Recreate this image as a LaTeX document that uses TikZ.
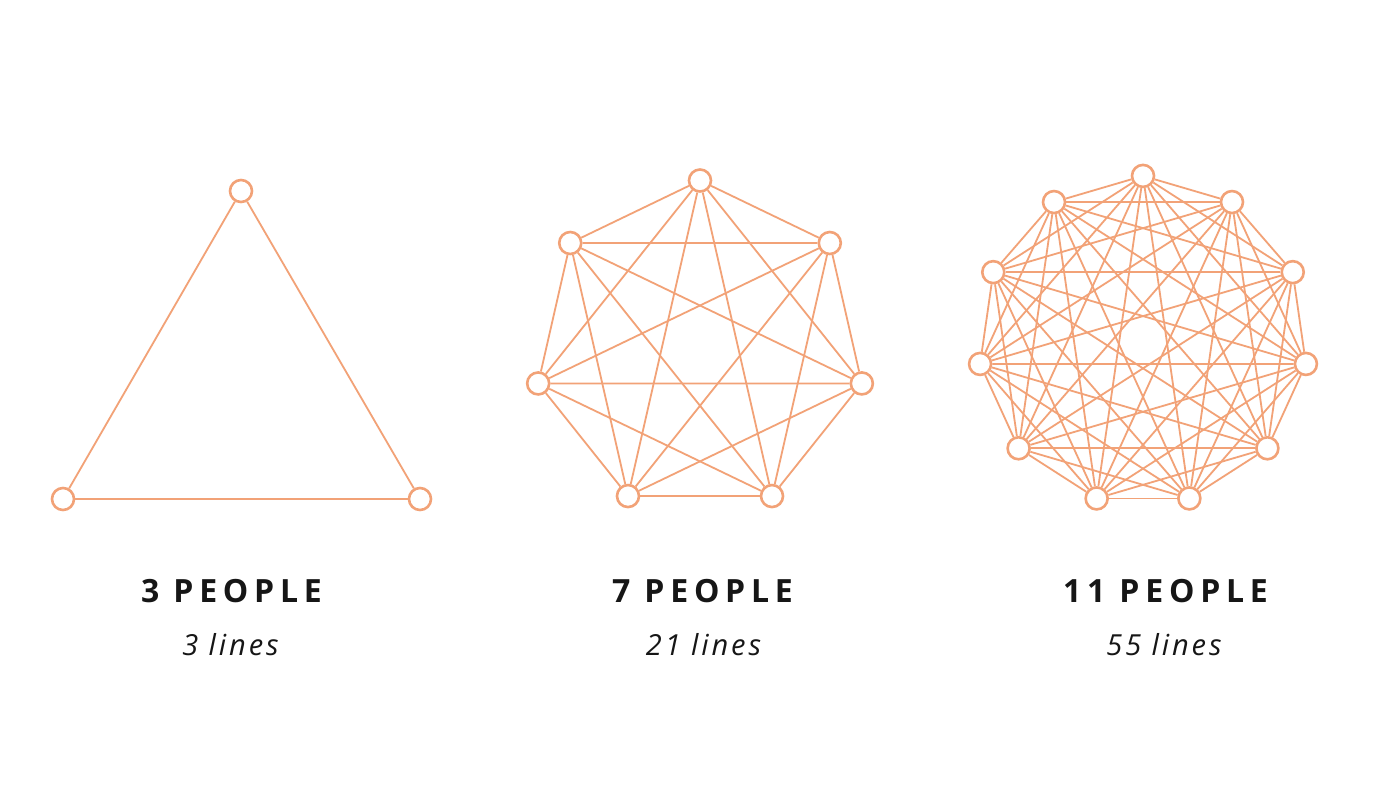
\documentclass[tikz,border=0pt]{standalone}
\usepackage{fontspec}
\newfontfamily\headfont[LetterSpace=18]{Open Sans}
\newfontfamily\subfont[LetterSpace=10]{Open Sans}
\definecolor{peach}{HTML}{F2A277}
\definecolor{ink}{HTML}{161616}
\begin{document}
\begin{tikzpicture}[x=1pt,y=-1pt,
  person/.style={circle,draw=peach,line width=2.6pt,fill=white,minimum size=22pt,inner sep=0pt},
  link/.style={draw=peach,line width=1.8pt},
  heading/.style={anchor=base,text=ink,font=\headfont\bfseries\fontsize{32}{38}\selectfont},
  count/.style={anchor=base,text=ink,font=\subfont\itshape\fontsize{29}{35}\selectfont}]
\fill[white] (0,0) rectangle (1400,788);

% three people
\node[person] (t0) at (241,191) {};
\node[person] (t1) at (420,499) {};
\node[person] (t2) at (63,499) {};
\foreach \i in {0,1}{
  \pgfmathtruncatemacro\s{\i+1}
  \foreach \j in {\s,...,2}{ \draw[link] (t\i) -- (t\j); }
}

% seven people
\begin{scope}[shift={(700,346.5)}]
\foreach \i in {0,...,6}{ \node[person] (s\i) at (-90+\i*360/7:166) {}; }
\end{scope}
\foreach \i in {0,...,5}{
  \pgfmathtruncatemacro\s{\i+1}
  \foreach \j in {\s,...,6}{ \draw[link] (s\i) -- (s\j); }
}

% eleven people
\begin{scope}[shift={(1143,340.5)}]
\foreach \i in {0,...,10}{ \node[person] (e\i) at (-90+\i*360/11:164.6) {}; }
\end{scope}
\foreach \i in {0,...,9}{
  \pgfmathtruncatemacro\s{\i+1}
  \foreach \j in {\s,...,10}{ \draw[link] (e\i) -- (e\j); }
}

% captions
\node[heading] (h3) at (231.5,602) {3 PEOPLE};
\node[count] (c3) at (230.5,655) {3 lines};
\node[heading] (h7) at (702.5,602) {7 PEOPLE};
\node[count] (c7) at (703.5,655) {21 lines};
\node[heading] (h11) at (1165.5,602) {11 PEOPLE};
\node[count] (c11) at (1164,655) {55 lines};
\end{tikzpicture}
\end{document}
